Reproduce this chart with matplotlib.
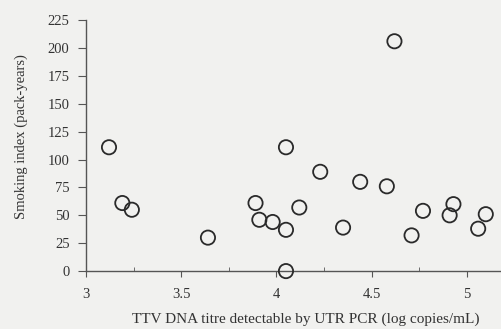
import matplotlib
matplotlib.use("Agg")
import matplotlib.pyplot as plt

# TTV DNA titre (log copies/mL) vs smoking index (pack-years)
ttv_titre = [3.12, 3.19, 3.24, 3.64, 3.89, 3.91, 3.98, 4.05, 4.05, 4.05, 4.12,
             4.23, 4.35, 4.44, 4.58, 4.62, 4.71, 4.77, 4.93, 4.91, 5.06, 5.10]
smoking_index = [111, 61, 55, 30, 61, 46, 44, 37, 0, 111, 57,
                 89, 39, 80, 76, 206, 32, 54, 60, 50, 38, 51]

x_ticks = [3, 3.5, 4, 4.5, 5]
y_ticks = [0, 25, 50, 75, 100, 125, 150, 175, 200, 225]

plt.rcParams['font.family'] = ['Liberation Serif', 'DejaVu Serif']
text_color = '#333333'

fig = plt.figure(figsize=(5.01, 3.29), dpi=100, facecolor='#f1f1ef')
ax = fig.add_axes([0.172, 0.176, 0.828, 0.763])
ax.set_facecolor('#f1f1ef')

ax.scatter(ttv_titre, smoking_index, s=105, facecolors='none',
           edgecolors='#2a2a2a', linewidths=1.3, clip_on=False, zorder=3)

ax.set_xlim(3, 5.18)
ax.set_ylim(0, 225)
ax.set_xticks(x_ticks)
ax.set_xticks([3.25, 3.75, 4.25, 4.75], minor=True)
ax.set_xticklabels(['3', '3.5', '4', '4.5', '5'])
ax.set_yticks(y_ticks)

for side in ['top', 'right']:
    ax.spines[side].set_visible(False)
for side in ['left', 'bottom']:
    ax.spines[side].set_color('#555555')
    ax.spines[side].set_linewidth(1.0)

ax.tick_params(axis='both', colors='#555555', labelcolor=text_color, labelsize=10.5,
               width=0.8)
ax.tick_params(axis='y', length=6, pad=6)
ax.tick_params(axis='x', length=4, pad=8)
ax.tick_params(axis='x', which='minor', direction='in', length=3, colors='#555555')

ax.set_ylabel('Smoking index (pack-years)', fontsize=10.5, color=text_color)
ax.set_xlabel('TTV DNA titre detectable by UTR PCR (log copies/mL)', fontsize=11,
              color=text_color)
ax.yaxis.set_label_coords(-0.14, 0.534)
ax.xaxis.set_label_coords(0.53, -0.165)

fig.savefig('out.png', dpi=100, facecolor=fig.get_facecolor())
